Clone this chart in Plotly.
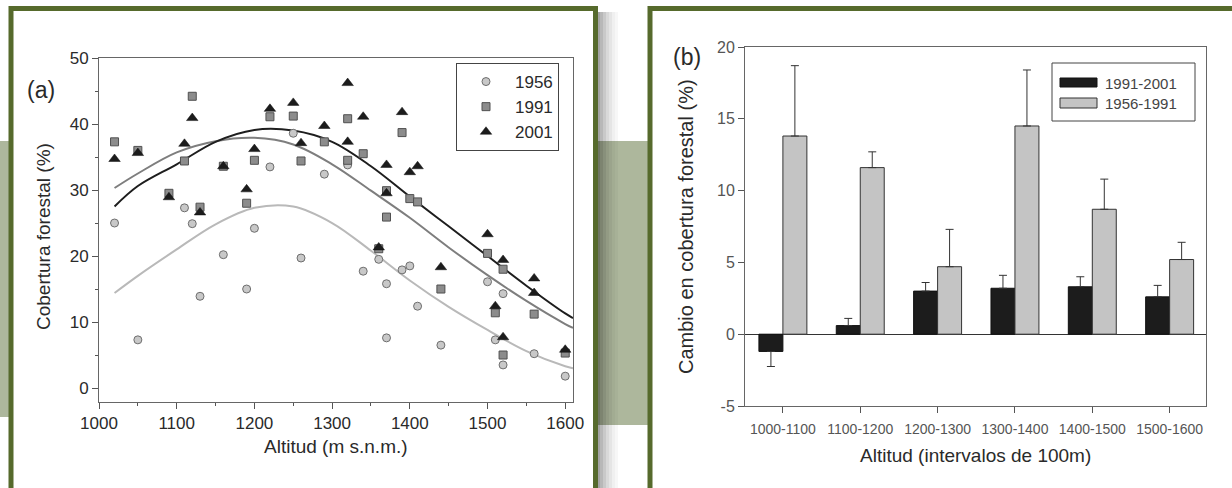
import plotly.graph_objects as go

# ---------------- data: panel (a) ----------------
alt_1956 = [1020, 1050, 1110, 1120, 1130, 1160, 1190, 1200, 1220, 1250, 1260, 1290, 1320, 1340,
            1360, 1370, 1370, 1390, 1400, 1410, 1440, 1500, 1510, 1520, 1520, 1560, 1600]
cov_1956 = [25.0, 7.3, 27.3, 24.9, 13.9, 20.2, 15.0, 24.2, 33.5, 38.6, 19.7, 32.4, 33.8, 17.7,
            19.5, 15.8, 7.6, 17.9, 18.5, 12.4, 6.5, 16.1, 7.3, 14.3, 3.5, 5.2, 1.8]

alt_1991 = [1020, 1050, 1090, 1110, 1120, 1130, 1160, 1190, 1200, 1220, 1250, 1260, 1290, 1320,
            1320, 1340, 1360, 1370, 1370, 1390, 1400, 1410, 1440, 1500, 1510, 1520, 1520, 1560, 1600]
cov_1991 = [37.3, 36.0, 29.5, 34.4, 44.2, 27.4, 33.6, 28.0, 34.5, 41.1, 41.2, 34.4, 37.3, 40.8,
            34.5, 35.5, 21.1, 29.9, 25.9, 38.7, 28.7, 28.2, 15.0, 20.4, 11.4, 18.0, 5.0, 11.2, 5.3]

alt_2001 = [1020, 1050, 1090, 1110, 1120, 1130, 1160, 1190, 1200, 1220, 1250, 1260, 1290, 1320,
            1320, 1340, 1360, 1370, 1370, 1390, 1400, 1410, 1440, 1500, 1510, 1520, 1520, 1560,
            1560, 1600]
cov_2001 = [34.7, 35.6, 28.9, 37.0, 40.9, 26.6, 33.6, 30.1, 36.2, 42.3, 43.2, 37.1, 39.7, 46.2,
            37.3, 41.1, 21.3, 33.8, 29.5, 41.8, 32.7, 33.6, 18.3, 23.3, 12.4, 19.4, 7.7, 16.6,
            14.4, 5.8]

# fitted curves
alt_fit = [1020, 1050, 1100, 1150, 1200, 1250, 1300, 1350, 1400, 1450, 1500, 1550, 1600, 1610]
fit_1956 = [14.4, 17.0, 21.0, 24.8, 27.3, 27.5, 25.0, 20.8, 16.3, 12.3, 8.8, 5.6, 3.3, 3.0]
fit_1991 = [30.3, 32.5, 35.7, 37.4, 37.9, 36.9, 33.9, 29.9, 25.8, 21.3, 17.1, 13.2, 9.7, 9.1]
fit_2001 = [27.5, 30.6, 33.9, 37.3, 39.1, 39.0, 37.3, 33.6, 29.0, 24.5, 20.0, 15.5, 11.3, 10.6]

# ---------------- data: panel (b) ----------------
intervals = ["1000-1100", "1100-1200", "1200-1300", "1300-1400", "1400-1500", "1500-1600"]
chg_91_01 = [-1.2, 0.6, 3.0, 3.2, 3.3, 2.6]
err_91_01_up = [0.0, 0.5, 0.6, 0.9, 0.7, 0.8]
err_91_01_dn = [1.05, 0.0, 0.0, 0.0, 0.0, 0.0]
chg_56_91 = [13.8, 11.6, 4.7, 14.5, 8.7, 5.2]
err_56_91_up = [4.9, 1.1, 2.6, 3.9, 2.1, 1.2]
y2_tickvals = [-5, 0, 5, 10, 15, 20]
y2_ticktext = ["-5", "0", "5", "10", "15", "20"]

W, H = 1232, 488
FONT = "Liberation Sans, Arial, sans-serif"


def px(x):
    return x / W


def py(y):
    return 1 - y / H


fig = go.Figure()

# fitted curves
for ys, col in [(fit_1956, "#b9b9b9"), (fit_1991, "#7e7e7e"), (fit_2001, "#1e1e1e")]:
    fig.add_trace(go.Scatter(x=alt_fit, y=ys, mode="lines", line=dict(color=col, width=2, shape="spline"),
                             showlegend=False, hoverinfo="skip", xaxis="x", yaxis="y"))

fig.add_trace(go.Scatter(x=alt_1956, y=cov_1956, mode="markers", name="1956",
                         marker=dict(symbol="circle", size=8, color="#c8c8c8",
                                     line=dict(color="#6e6e6e", width=1)),
                         xaxis="x", yaxis="y", legend="legend"))
fig.add_trace(go.Scatter(x=alt_1991, y=cov_1991, mode="markers", name="1991",
                         marker=dict(symbol="square", size=8, color="#8c8c8c",
                                     line=dict(color="#505050", width=1)),
                         xaxis="x", yaxis="y", legend="legend"))
fig.add_trace(go.Scatter(x=alt_2001, y=cov_2001, mode="markers", name="2001",
                         marker=dict(symbol="triangle-up", size=10, color="#1c1c1c",
                                     line=dict(color="#111111", width=0.5)),
                         xaxis="x", yaxis="y", legend="legend"))

# bars
fig.add_trace(go.Bar(x=intervals, y=chg_91_01, name="1991-2001", showlegend=False,
                     marker=dict(color="#1c1c1c", line=dict(color="#111111", width=1)),
                     error_y=dict(type="data", symmetric=False, array=err_91_01_up,
                                  arrayminus=err_91_01_dn, color="#333333", thickness=1, width=4),
                     xaxis="x2", yaxis="y2"))
fig.add_trace(go.Bar(x=intervals, y=chg_56_91, name="1956-1991", showlegend=False,
                     marker=dict(color="#c4c4c4", line=dict(color="#333333", width=1)),
                     error_y=dict(type="data", symmetric=False, array=err_56_91_up,
                                  arrayminus=[0] * len(chg_56_91), color="#333333", thickness=1, width=4),
                     xaxis="x2", yaxis="y2"))

# ---------------- decorations ----------------
GREEN = "#566a2c"
BAND = "#adb79c"
shapes = []
# grey-green band
shapes.append(dict(type="rect", xref="paper", yref="paper", x0=px(0), x1=px(12), y0=py(417), y1=py(141),
                   fillcolor=BAND, line=dict(width=0), layer="below"))
shapes.append(dict(type="rect", xref="paper", yref="paper", x0=px(590), x1=px(655), y0=py(425), y1=py(141),
                   fillcolor=BAND, line=dict(width=0), layer="below"))
# shadow to the right of the left frame
for i, op in enumerate([0.36, 0.28, 0.21, 0.15, 0.10, 0.06, 0.03]):
    shapes.append(dict(type="rect", xref="paper", yref="paper", x0=px(597 + 3 * i), x1=px(600 + 3 * i),
                       y0=py(500), y1=py(12), fillcolor="black", opacity=op, line=dict(width=0), layer="below"))
# frames
shapes.append(dict(type="rect", xref="paper", yref="paper", x0=px(11), x1=px(595.5), y0=py(510), y1=py(8.5),
                   fillcolor="white", line=dict(color=GREEN, width=5), layer="below"))
shapes.append(dict(type="rect", xref="paper", yref="paper", x0=px(650), x1=px(1300), y0=py(510), y1=py(8.5),
                   fillcolor="white", line=dict(color=GREEN, width=5), layer="below"))
# manual legend for panel (b)
shapes.append(dict(type="rect", xref="paper", yref="paper", x0=px(1052), x1=px(1195), y0=py(121), y1=py(63),
                   fillcolor="white", line=dict(color="#444444", width=1)))
shapes.append(dict(type="rect", xref="paper", yref="paper", x0=px(1060), x1=px(1097), y0=py(87), y1=py(78),
                   fillcolor="#1c1c1c", line=dict(color="#111111", width=1)))
shapes.append(dict(type="rect", xref="paper", yref="paper", x0=px(1060), x1=px(1097), y0=py(108), y1=py(98),
                   fillcolor="#c4c4c4", line=dict(color="#333333", width=1)))

annotations = [
    dict(text="(a)", x=px(41), y=py(90), font=dict(size=23, color="#2a2a2a", family=FONT)),
    dict(text="Cobertura forestal (%)", x=px(44), y=py(237), textangle=-90,
         font=dict(size=19, color="#2a2a2a", family=FONT)),
    dict(text="Altitud (m s.n.m.)", x=px(336), y=py(446), font=dict(size=19, color="#2a2a2a", family=FONT)),
    dict(text="(b)", x=px(687), y=py(57), font=dict(size=23, color="#2a2a2a", family=FONT)),
    dict(text="Cambio en cobertura forestal (%)", x=px(686), y=py(226), textangle=-90,
         font=dict(size=20, color="#2a2a2a", family=FONT)),
    dict(text="Altitud (intervalos de 100m)", x=px(975), y=py(455),
         font=dict(size=19, color="#2a2a2a", family=FONT)),
    dict(text="1991-2001", x=px(1103), y=py(83), xanchor="left",
         font=dict(size=15, color="#444444", family=FONT)),
    dict(text="1956-1991", x=px(1103), y=py(103), xanchor="left",
         font=dict(size=15, color="#444444", family=FONT)),
]
for a in annotations:
    a.update(xref="paper", yref="paper", showarrow=False)
    a.setdefault("xanchor", "center")
    a["yanchor"] = "middle"

axis_common = dict(showgrid=False, zeroline=False, showline=True, linecolor="#666666", linewidth=1,
                   mirror=True, ticks="outside", tickcolor="#555555", tickwidth=1, automargin=False)

fig.update_layout(
    template="none",
    width=W, height=H, margin=dict(l=0, r=0, t=0, b=0, pad=0, autoexpand=False),
    paper_bgcolor="white", plot_bgcolor="rgba(0,0,0,0)",
    font=dict(family=FONT, color="#2a2a2a"),
    barmode="group", bargap=0.38, bargroupgap=0,
    shapes=shapes, annotations=annotations,
    xaxis=dict(domain=[px(99), px(573)], range=[1000, 1610], anchor="y", tickmode="linear", tick0=1000,
               dtick=100, ticklen=6, tickfont=dict(size=17, color="#2a2a2a"),
               minor=dict(dtick=50, tick0=1000, ticks="outside", ticklen=3, tickcolor="#555555"),
               **axis_common),
    yaxis=dict(domain=[py(401.7), py(58)], range=[-2.07, 50], anchor="x", tickmode="linear", tick0=0,
               dtick=10, ticklen=6, tickfont=dict(size=17, color="#2a2a2a"),
               minor=dict(dtick=5, tick0=0, ticks="outside", ticklen=3, tickcolor="#555555"),
               **axis_common),
    xaxis2=dict(domain=[px(745), px(1206)], range=[-0.49, 5.47], anchor="y2", type="category",
                ticklen=6, tickfont=dict(size=14, color="#555555"), ticklabelstandoff=4, **axis_common),
    yaxis2=dict(domain=[py(406), py(47)], range=[-5, 20], anchor="x2", tickmode="array",
                tickvals=y2_tickvals, ticktext=y2_ticktext,
                ticklen=6, tickfont=dict(size=16, color="#555555"),
                **{**axis_common, "zeroline": True}, zerolinecolor="#333333", zerolinewidth=1),
    legend=dict(x=px(456), y=py(63), xanchor="left", yanchor="top", bgcolor="white",
                bordercolor="#444444", borderwidth=1, font=dict(size=17, color="#2a2a2a"),
                itemwidth=48, tracegroupgap=0),
)

fig.write_html("out.html", config={"displayModeBar": False},
               post_script="document.body.style.margin='0px';document.body.style.overflow='hidden';")
